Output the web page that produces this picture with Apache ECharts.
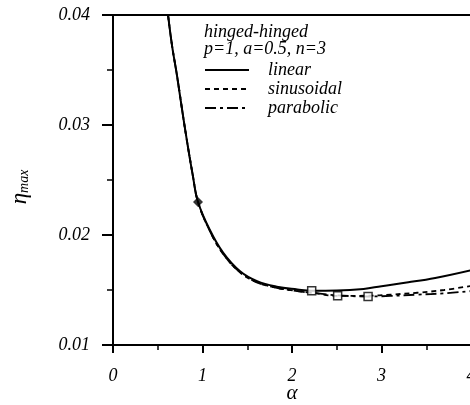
<!DOCTYPE html>
<html>
<head>
<meta charset="utf-8">
<script src="https://cdn.jsdelivr.net/npm/echarts@6/dist/echarts.min.js"></script>
<style>html,body{margin:0;padding:0;background:#fff;}#c{width:470px;height:405px;}</style>
</head>
<body>
<div id="c"></div>
<script>
// ---- data ----
const alphaLinear = [0.615, 0.66, 0.715, 0.80, 0.894, 0.95, 1.08, 1.23, 1.42, 1.61, 1.83, 2.06, 2.22, 2.5, 2.8, 3.0, 3.3, 3.6, 4.0];
const etaLinear   = [0.0400, 0.0372, 0.0345, 0.0299, 0.0253, 0.0230, 0.0205, 0.0184, 0.0167, 0.0158, 0.0153, 0.01505, 0.01493, 0.01495, 0.0151, 0.01535, 0.0157, 0.0161, 0.0168];

const alphaSin = [0.615, 0.66, 0.715, 0.80, 0.894, 0.95, 1.08, 1.23, 1.42, 1.61, 1.83, 2.06, 2.22, 2.51, 2.85, 3.1, 3.4, 3.7, 4.0];
const etaSin   = [0.0400, 0.0372, 0.0345, 0.0299, 0.0253, 0.0230, 0.0204, 0.0183, 0.0166, 0.0157, 0.0152, 0.0149, 0.01475, 0.01447, 0.01448, 0.01458, 0.01475, 0.0150, 0.01537];

const alphaPar = [0.615, 0.66, 0.715, 0.80, 0.894, 0.95, 1.08, 1.23, 1.42, 1.61, 1.83, 2.06, 2.22, 2.5, 2.85, 3.1, 3.4, 3.7, 4.0];
const etaPar   = [0.0400, 0.0372, 0.0345, 0.0299, 0.0253, 0.0230, 0.0204, 0.0183, 0.0166, 0.0157, 0.0152, 0.0149, 0.01475, 0.01452, 0.01441, 0.01446, 0.01458, 0.0147, 0.0149];

const diamondAlpha = [0.95];
const diamondEta   = [0.0230];
const squareAlpha  = [2.22, 2.51, 2.85];
const squareEta    = [0.01493, 0.01447, 0.01441];

const xTicks = [0, 1, 2, 3, 4];
const yTicks = [0.01, 0.02, 0.03, 0.04];
const seriesNames = ['linear', 'sinusoidal', 'parabolic'];
const titleLines = ['hinged-hinged', 'p=1, a=0.5, n=3'];

const zip = (xs, ys) => xs.map((x, i) => [x, ys[i]]);
const FONT = 'Liberation Serif';

const chart = echarts.init(document.getElementById('c'), null, {renderer: 'canvas'});
const axisLineStyle = {color: '#000', width: 2};

chart.setOption({
  backgroundColor: '#fff',
  animation: false,
  title: {
    text: titleLines.join('\n'),
    left: 199, top: 19,
    textStyle: {fontFamily: FONT, fontStyle: 'italic', fontWeight: 'normal', fontSize: 18, color: '#000', lineHeight: 17}
  },
  legend: {
    data: seriesNames,
    orient: 'vertical',
    left: 199, top: 56,
    itemWidth: 44, itemHeight: 12, itemGap: 1,
    itemStyle: {opacity: 0, color: 'transparent', borderColor: 'transparent', borderWidth: 0},
    textStyle: {fontFamily: FONT, fontStyle: 'italic', fontSize: 18, color: '#000', padding: [0, 0, 0, 14]}
  },
  grid: {left: 113, top: 15, width: 358, height: 330, containLabel: false, outerBoundsMode: 'none'},
  xAxis: [{
    type: 'value', min: xTicks[0], max: xTicks[xTicks.length - 1], interval: 1,
    name: 'α', nameLocation: 'middle', nameGap: 38, nameMoveOverlap: false,
    nameTextStyle: {fontFamily: FONT, fontStyle: 'italic', fontSize: 21, color: '#000'},
    axisLine: {show: true, lineStyle: axisLineStyle},
    axisTick: {show: true, inside: false, length: 8, lineStyle: {color: '#000', width: 2}},
    minorTick: {show: true, splitNumber: 2, length: 5, lineStyle: {color: '#000', width: 1.5}},
    axisLabel: {margin: 22, fontFamily: FONT, fontStyle: 'italic', fontSize: 18, color: '#000'},
    splitLine: {show: false}
  }, {
    type: 'value', position: 'top', min: xTicks[0], max: xTicks[xTicks.length - 1],
    axisLine: {show: true, lineStyle: axisLineStyle},
    axisTick: {show: false}, axisLabel: {show: false}, splitLine: {show: false}
  }],
  yAxis: [{
    type: 'value', min: yTicks[0], max: yTicks[yTicks.length - 1], interval: 0.01,
    name: '{a|η}{b|max}', nameLocation: 'middle', nameGap: 82, nameRotate: 90, nameMoveOverlap: false,
    nameTextStyle: {
      padding: [0, 14, 0, 0],
      rich: {
        a: {fontFamily: FONT, fontStyle: 'italic', fontSize: 23, color: '#000'},
        b: {fontFamily: FONT, fontStyle: 'italic', fontSize: 14, color: '#000', verticalAlign: 'bottom', padding: [7, 0, 0, 0]}
      }
    },
    axisLine: {show: true, lineStyle: axisLineStyle},
    axisTick: {show: true, inside: false, length: 11, lineStyle: {color: '#000', width: 2}},
    minorTick: {show: true, splitNumber: 2, length: 6, lineStyle: {color: '#000', width: 1.5}},
    axisLabel: {margin: 23, fontFamily: FONT, fontStyle: 'italic', fontSize: 18, color: '#000',
      formatter: v => v.toFixed(2)},
    splitLine: {show: false}
  }],
  series: [
    {name: seriesNames[0], type: 'line', data: zip(alphaLinear, etaLinear), smooth: 0.4,
      symbol: 'none', lineStyle: {color: '#000', width: 2, type: 'solid'}, itemStyle: {color: '#000'}, z: 3},
    {name: seriesNames[1], type: 'line', data: zip(alphaSin, etaSin), smooth: 0.4,
      symbol: 'none', lineStyle: {color: '#000', width: 1.8, type: [5, 4]}, itemStyle: {color: '#000'}, z: 2},
    {name: seriesNames[2], type: 'line', data: zip(alphaPar, etaPar), smooth: 0.4,
      symbol: 'none', lineStyle: {color: '#000', width: 1.8, type: [11, 4, 3, 4]}, itemStyle: {color: '#000'}, z: 2},
    {type: 'scatter', data: zip(diamondAlpha, diamondEta), symbol: 'diamond', symbolSize: 10,
      itemStyle: {color: '#000'}, z: 5},
    {type: 'scatter', data: zip(squareAlpha, squareEta), symbol: 'rect', symbolSize: 8,
      itemStyle: {color: '#fff', borderColor: '#000', borderWidth: 1.5}, z: 5}
  ]
});
</script>
</body>
</html>
